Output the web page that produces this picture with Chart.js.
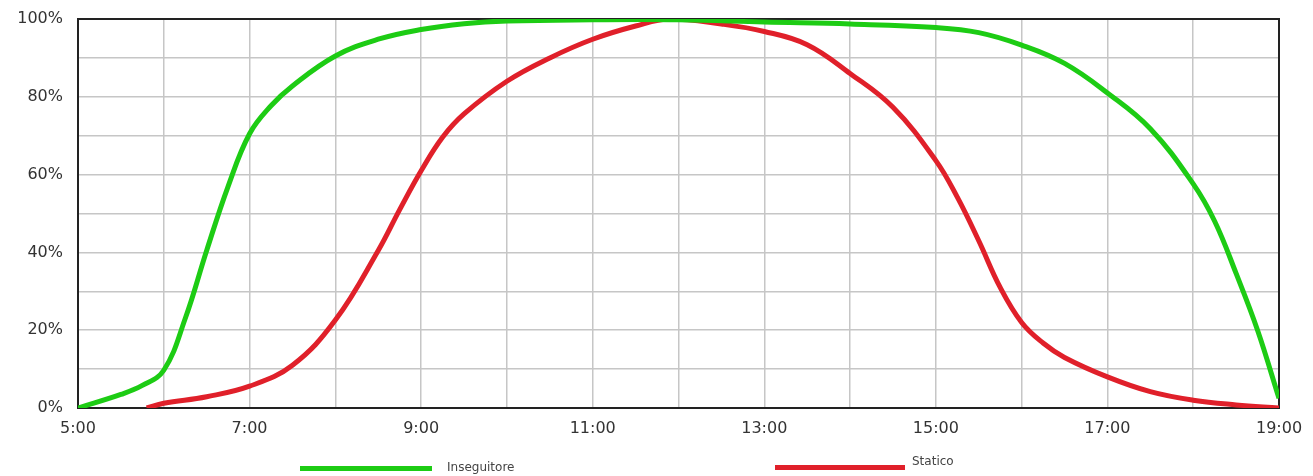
<!DOCTYPE html>
<html>
<head>
<meta charset="utf-8">
<script src="https://cdn.jsdelivr.net/npm/chart.js@4/dist/chart.umd.min.js"></script>
<style>
    body { margin: 0; background: #fff; }
    #wrap { position: relative; width: 1313px; height: 476px; overflow: hidden; }
    #chart { display: block; }
    .leg { position: absolute; font-family: "DejaVu Sans", sans-serif; font-size: 12px; color: #444; }
    .leg-bar { position: absolute; height: 5px; }
</style>
</head>
<body>
<div id="wrap">
    <canvas id="chart" width="1313" height="476"></canvas>
    <div class="leg-bar" id="bar-green" style="left:300px; top:466px; width:132px;"></div>
    <div class="leg" id="label-green" style="left:447px; top:460px;"></div>
    <div class="leg-bar" id="bar-red" style="left:775px; top:465px; width:130px;"></div>
    <div class="leg" id="label-red" style="left:912px; top:454px;"></div>
</div>
<script>
// hours of day and yield (%)
const greenHours = [5, 5.5, 5.75, 6, 6.25, 6.5, 6.75, 7, 7.25, 7.5, 8, 8.5, 9, 9.5, 10, 11, 12, 13, 14, 15, 15.5, 16, 16.5, 17, 17.5, 18, 18.25, 18.5, 18.75, 19];
const greenValues = [0, 3.5, 5.8, 9.7, 23, 40.5, 57, 70.5, 77.7, 82.8, 90.5, 94.8, 97.3, 98.8, 99.5, 99.8, 99.8, 99.2, 98.7, 97.8, 96.5, 93.3, 88.6, 81, 71.8, 57.6, 48, 34.6, 20, 2.5];

const redHours = [5.8, 6, 6.5, 7, 7.5, 8, 8.5, 8.75, 9, 9.25, 9.5, 10, 10.5, 11, 11.5, 11.9, 12.5, 13, 13.5, 14, 14.5, 15, 15.25, 15.5, 15.75, 16, 16.25, 16.5, 17, 17.5, 18, 18.5, 19];
const redValues = [0, 1.2, 2.9, 5.6, 11, 22.6, 40.5, 51, 61, 69.6, 75.6, 84, 90, 94.8, 98.2, 100, 98.7, 96.8, 93.4, 86, 77.3, 63.6, 54.2, 43, 31, 22, 16.7, 13, 8, 4.2, 2, 0.8, 0];

const seriesNames = ["Inseguitore", "Statico"];
const seriesColors = ["#1dcc14", "#e0202a"];

const xTickLabels = ["5:00", "7:00", "9:00", "11:00", "13:00", "15:00", "17:00", "19:00"];
const yTickLabels = ["0%", "20%", "40%", "60%", "80%", "100%"];

// legend under the chart
document.getElementById("bar-green").style.background = seriesColors[0];
document.getElementById("bar-red").style.background = seriesColors[1];
document.getElementById("label-green").innerText = seriesNames[0];
document.getElementById("label-red").innerText = seriesNames[1];

const toPoints = (hours, values) => hours.map((h, i) => ({ x: h, y: values[i] }));

// frame around the plot area (top and right sides too)
const frame = {
    id: "frame",
    beforeDatasetsDraw(chart) {
        const { ctx, chartArea } = chart;
        ctx.save();
        ctx.strokeStyle = "#222";
        ctx.lineWidth = 2;
        ctx.strokeRect(chartArea.left, chartArea.top, chartArea.right - chartArea.left, chartArea.bottom - chartArea.top);
        ctx.restore();
    }
};

const tickFont = { family: "DejaVu Sans", size: 16 };

new Chart(document.getElementById("chart"), {
    type: "line",
    data: {
        datasets: [
            {
                label: seriesNames[0],
                data: toPoints(greenHours, greenValues),
                borderColor: seriesColors[0],
                backgroundColor: seriesColors[0],
                borderWidth: 5,
                pointRadius: 0,
                tension: 0.4
            },
            {
                label: seriesNames[1],
                data: toPoints(redHours, redValues),
                borderColor: seriesColors[1],
                backgroundColor: seriesColors[1],
                borderWidth: 5,
                pointRadius: 0,
                tension: 0.4
            }
        ]
    },
    options: {
        responsive: false,
        animation: false,
        layout: { autoPadding: false, padding: { top: 19, right: 34, bottom: 38, left: 0 } },
        plugins: {
            legend: { display: false },
            tooltip: { enabled: false }
        },
        scales: {
            x: {
                type: "linear",
                min: 5,
                max: 19,
                afterFit: (s) => { s.height = 30; },
                grid: { color: "#c6c6c6", lineWidth: 1.5, tickLength: 10, tickColor: "transparent" },
                border: { color: "#222", width: 2 },
                ticks: {
                    stepSize: 1,
                    padding: 1,
                    color: "#333",
                    font: tickFont,
                    maxRotation: 0,
                    autoSkip: false,
                    callback: (v) => {
                        const i = (v - 5) / 2;
                        return Number.isInteger(i) ? xTickLabels[i] : "";
                    }
                }
            },
            y: {
                min: 0,
                max: 100,
                afterFit: (s) => { s.width = 78; },
                grid: { color: "#c6c6c6", lineWidth: 1.5, tickLength: 14, tickColor: "transparent" },
                border: { color: "#222", width: 2 },
                ticks: {
                    stepSize: 10,
                    padding: 1,
                    color: "#333",
                    font: tickFont,
                    callback: (v) => (v % 20 === 0 ? yTickLabels[v / 20] : "")
                }
            }
        }
    },
    plugins: [frame]
});
</script>
</body>
</html>
